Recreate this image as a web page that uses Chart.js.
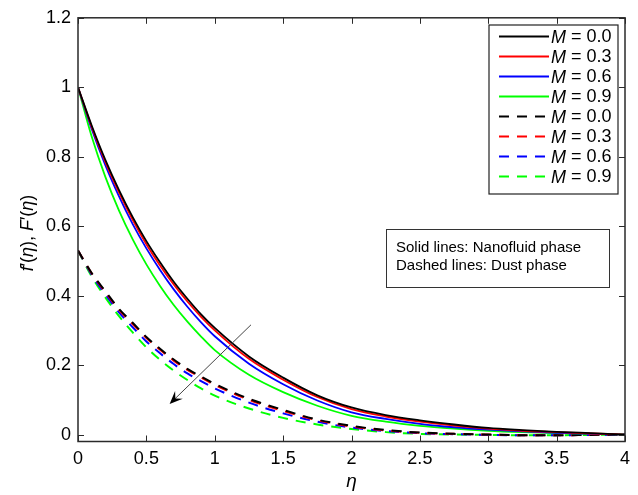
<!DOCTYPE html>
<html>
<head>
<meta charset="utf-8">
<script src="https://cdn.jsdelivr.net/npm/chart.js@4.4.1/dist/chart.umd.min.js"></script>
<style>
  html, body { margin: 0; padding: 0; background: #fff; }
</style>
</head>
<body>
<canvas id="chart" width="638" height="495"></canvas>
<script>
// eta grid
const eta = [0, 0.1, 0.2, 0.3, 0.4, 0.5, 0.6, 0.7, 0.8, 0.9, 1.0, 1.25, 1.5, 1.75, 2, 2.25, 2.5, 2.75, 3, 3.25, 3.5, 3.75, 4];

// solid lines: nanofluid phase f'(eta)
const nanoM00 = [1, 0.89, 0.791, 0.704, 0.626, 0.557, 0.496, 0.44, 0.391, 0.346, 0.307, 0.225, 0.164, 0.113, 0.078, 0.056, 0.041, 0.029, 0.019, 0.013, 0.008, 0.004, 0];
const nanoM03 = [1, 0.886, 0.785, 0.697, 0.618, 0.548, 0.487, 0.432, 0.383, 0.339, 0.3, 0.218, 0.158, 0.108, 0.073, 0.052, 0.037, 0.026, 0.017, 0.011, 0.007, 0.003, 0];
const nanoM06 = [1, 0.88, 0.776, 0.686, 0.606, 0.536, 0.474, 0.418, 0.368, 0.323, 0.283, 0.204, 0.145, 0.098, 0.064, 0.045, 0.031, 0.021, 0.014, 0.009, 0.005, 0.002, 0];
const nanoM09 = [1, 0.858, 0.742, 0.645, 0.562, 0.49, 0.428, 0.373, 0.325, 0.282, 0.243, 0.172, 0.122, 0.083, 0.054, 0.037, 0.025, 0.017, 0.011, 0.007, 0.004, 0.002, 0];

// dashed lines: dust phase F'(eta)
const dustM00 = [0.53, 0.465, 0.413, 0.362, 0.322, 0.281, 0.247, 0.216, 0.189, 0.167, 0.146, 0.103, 0.071, 0.043, 0.025, 0.013, 0.006, 0.002, 0.0, -0.002, -0.002, -0.001, 0];
const dustM03 = [0.53, 0.464, 0.41, 0.359, 0.318, 0.278, 0.244, 0.213, 0.186, 0.164, 0.143, 0.1, 0.068, 0.041, 0.023, 0.012, 0.005, 0.002, 0.0, -0.002, -0.002, -0.001, 0];
const dustM06 = [0.53, 0.46, 0.404, 0.352, 0.309, 0.268, 0.234, 0.203, 0.176, 0.154, 0.133, 0.092, 0.061, 0.037, 0.02, 0.01, 0.004, 0.001, -0.001, -0.002, -0.002, -0.001, 0];
const dustM09 = [0.53, 0.455, 0.395, 0.341, 0.294, 0.251, 0.215, 0.184, 0.157, 0.133, 0.112, 0.075, 0.048, 0.029, 0.016, 0.007, 0.002, 0.0, -0.001, -0.002, -0.002, -0.001, 0];

const mLabels = ['0.0', '0.3', '0.6', '0.9'];
const lineColors = ['#000000', '#ff0000', '#0000ff', '#00ff00'];

const xTicks = [0, 0.5, 1, 1.5, 2, 2.5, 3, 3.5, 4];
const yTicks = [0, 0.2, 0.4, 0.6, 0.8, 1, 1.2];
const xTickLabels = ['0', '0.5', '1', '1.5', '2', '2.5', '3', '3.5', '4'];
const yTickLabels = ['0', '0.2', '0.4', '0.6', '0.8', '1', '1.2'];

// arrow annotation (data coords): tail -> head
const arrowFrom = [1.265, 0.316];
const arrowTo = [0.67, 0.088];

const FONT = '"Liberation Sans", Arial, Helvetica, sans-serif';

function toPoints(arr) {
    return arr.map((v, i) => ({ x: eta[i], y: v }));
}

const nanoSeries = [nanoM00, nanoM03, nanoM06, nanoM09];
const dustSeries = [dustM00, dustM03, dustM06, dustM09];

const datasets = [];
nanoSeries.forEach((s, i) => {
    datasets.push({
        label: 'M = ' + mLabels[i],
        data: toPoints(s),
        borderColor: lineColors[i],
        borderWidth: 1.8,
        borderDash: [],
        pointRadius: 0,
        cubicInterpolationMode: 'monotone',
        fill: false
    });
});
dustSeries.forEach((s, i) => {
    datasets.push({
        label: 'M = ' + mLabels[i],
        data: toPoints(s),
        borderColor: lineColors[i],
        borderWidth: 2,
        borderDash: [10, 8],
        pointRadius: 0,
        cubicInterpolationMode: 'monotone',
        fill: false
    });
});

function richWidth(ctx, parts, size) {
    let total = 0;
    parts.forEach(p => {
        ctx.font = p[1] + ' ' + size + 'px ' + FONT;
        total += ctx.measureText(p[0]).width;
    });
    return total;
}

const decorPlugin = {
    id: 'decor',
    afterDatasetsDraw(chart) {
        const { ctx, chartArea: a, scales: { x, y } } = chart;
        ctx.save();

        // arrow
        const x0 = x.getPixelForValue(arrowFrom[0]), y0 = y.getPixelForValue(arrowFrom[1]);
        const x1 = x.getPixelForValue(arrowTo[0]), y1 = y.getPixelForValue(arrowTo[1]);
        const ang = Math.atan2(y1 - y0, x1 - x0);
        const c = Math.cos(ang), s = Math.sin(ang);
        ctx.strokeStyle = '#444';
        ctx.lineWidth = 1;
        ctx.beginPath();
        ctx.moveTo(x0, y0);
        ctx.lineTo(x1 - 6 * c, y1 - 6 * s);
        ctx.stroke();
        ctx.fillStyle = '#000';
        const hl = 13, hw = 5.5;
        ctx.beginPath();
        ctx.moveTo(x1, y1);
        ctx.lineTo(x1 - hl * c + hw * s, y1 - hl * s - hw * c);
        ctx.lineTo(x1 - 8 * c, y1 - 8 * s);
        ctx.lineTo(x1 - hl * c - hw * s, y1 - hl * s + hw * c);
        ctx.closePath();
        ctx.fill();

        // axes box
        ctx.strokeStyle = '#2a2a2a';
        ctx.lineWidth = 1.5;
        ctx.strokeRect(a.left, a.top, a.right - a.left, a.bottom - a.top);

        // inward ticks on all sides
        ctx.lineWidth = 1;
        const tl = 6;
        ctx.beginPath();
        xTicks.forEach(v => {
            const px = Math.round(x.getPixelForValue(v)) + 0.5;
            ctx.moveTo(px, a.bottom); ctx.lineTo(px, a.bottom - tl);
            ctx.moveTo(px, a.top); ctx.lineTo(px, a.top + tl);
        });
        yTicks.forEach(v => {
            const py = Math.round(y.getPixelForValue(v)) + 0.5;
            ctx.moveTo(a.left, py); ctx.lineTo(a.left + tl, py);
            ctx.moveTo(a.right, py); ctx.lineTo(a.right - tl, py);
        });
        ctx.stroke();

        // x axis title
        ctx.fillStyle = '#000';
        ctx.font = 'italic 19px ' + FONT;
        ctx.textAlign = 'center';
        ctx.textBaseline = 'middle';
        ctx.fillText('η', (a.left + a.right) / 2, 482);

        // y axis title
        const parts = [['f', 'italic'], ['′(', 'normal'], ['η', 'italic'], ['), ', 'normal'],
                       ['F', 'italic'], ['′(', 'normal'], ['η', 'italic'], [')', 'normal']];
        const size = 18;
        const w = richWidth(ctx, parts, size);
        ctx.save();
        ctx.translate(28, 233);
        ctx.rotate(-Math.PI / 2);
        ctx.textAlign = 'left';
        let cx = -w / 2;
        parts.forEach(p => {
            ctx.font = p[1] + ' ' + size + 'px ' + FONT;
            ctx.fillText(p[0], cx, 0);
            cx += ctx.measureText(p[0]).width;
        });
        ctx.restore();

        // legend
        const lb = { l: 489, t: 25, r: 618, b: 194 };
        ctx.fillStyle = '#fff';
        ctx.fillRect(lb.l, lb.t, lb.r - lb.l, lb.b - lb.t);
        ctx.strokeStyle = '#222';
        ctx.lineWidth = 1.2;
        ctx.strokeRect(lb.l, lb.t, lb.r - lb.l, lb.b - lb.t);
        chart.data.datasets.forEach((ds, i) => {
            const ry = 36.5 + 20 * i;
            ctx.strokeStyle = ds.borderColor;
            ctx.lineWidth = 1.8;
            ctx.setLineDash(ds.borderDash);
            ctx.beginPath();
            ctx.moveTo(499, ry); ctx.lineTo(549, ry);
            ctx.stroke();
            ctx.setLineDash([]);
            ctx.fillStyle = '#000';
            ctx.textAlign = 'left';
            ctx.textBaseline = 'middle';
            ctx.font = 'italic 18px ' + FONT;
            ctx.fillText('M', 551, ry + 1);
            const mw = ctx.measureText('M').width;
            ctx.font = '18px ' + FONT;
            ctx.fillText(' = ' + mLabels[i % 4], 551 + mw, ry + 1);
        });

        // note box
        const nb = { l: 386, t: 229, r: 609, b: 287 };
        ctx.fillStyle = '#fff';
        ctx.fillRect(nb.l, nb.t, nb.r - nb.l, nb.b - nb.t);
        ctx.strokeStyle = '#333';
        ctx.lineWidth = 1;
        ctx.strokeRect(nb.l + 0.5, nb.t + 0.5, nb.r - nb.l, nb.b - nb.t);
        ctx.fillStyle = '#000';
        ctx.font = '15px ' + FONT;
        ctx.textAlign = 'left';
        ctx.textBaseline = 'middle';
        ctx.fillText('Solid lines: Nanofluid phase', 396, 248);
        ctx.fillText('Dashed lines: Dust phase', 396, 266);

        ctx.restore();
    }
};

const ctx = document.getElementById('chart').getContext('2d');
const chart = new Chart(ctx, {
    type: 'line',
    data: { datasets },
    options: {
        responsive: false,
        animation: false,
        devicePixelRatio: 1,
        layout: { padding: { left: 0, right: 13, top: 16, bottom: 0 } },
        plugins: {
            legend: { display: false },
            tooltip: { enabled: false }
        },
        scales: {
            x: {
                type: 'linear',
                min: 0,
                max: 4,
                grid: { display: false, drawTicks: false },
                border: { display: false },
                afterBuildTicks: s => { s.ticks = xTicks.map(v => ({ value: v })); },
                afterFit: s => { s.height = 53.5; },
                ticks: {
                    padding: 7,
                    color: '#000',
                    font: { family: FONT, size: 18 },
                    maxRotation: 0,
                    callback: (v) => xTickLabels[xTicks.indexOf(v)]
                }
            },
            y: {
                type: 'linear',
                min: -0.02,
                max: 1.2,
                grid: { display: false, drawTicks: false },
                border: { display: false },
                afterBuildTicks: s => { s.ticks = yTicks.map(v => ({ value: v })); },
                afterFit: s => { s.width = 78; },
                ticks: {
                    padding: 7,
                    color: '#000',
                    font: { family: FONT, size: 18 },
                    callback: (v) => yTickLabels[yTicks.indexOf(v)]
                }
            }
        }
    },
    plugins: [decorPlugin]
});
</script>
</body>
</html>
